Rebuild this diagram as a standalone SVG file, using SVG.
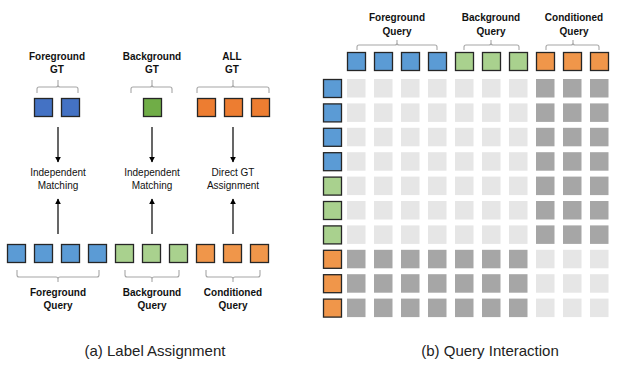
<svg xmlns="http://www.w3.org/2000/svg" width="621" height="369" viewBox="0 0 621 369">
<style>
text{font-family:"Liberation Sans",Arial,sans-serif;fill:#111;text-anchor:middle}
.b{font-weight:bold;font-size:10px}
.n{font-size:10px}
.cap{font-size:15px;fill:#222}
.sq{stroke:#262626;stroke-width:1.3}
.fgT{fill:#4472C4}.bgT{fill:#70AD47}.orT{fill:#ED7D31}
.fg{fill:#5B9BD5}.bg{fill:#A9D18E}.or{fill:#F0964A}
.lt{fill:#E6E6E6}.dk{fill:#A6A6A6}
.br{fill:none;stroke:#A6A6A6;stroke-width:1.1}
.ar{stroke:#000;stroke-width:1.2;fill:none;marker-end:url(#ah)}
</style>
<defs>
<marker id="ah" viewBox="0 0 10 10" refX="9" refY="5" markerWidth="6" markerHeight="6" markerUnits="userSpaceOnUse" orient="auto"><path d="M0,0L10,5L0,10z" fill="#000"/></marker>
</defs>
<rect width="621" height="369" fill="#fff"/>

<!-- (a) Label Assignment -->
<g id="fg-gt">
<text class="b" x="57" y="60">Foreground</text><text class="b" x="57" y="73">GT</text>
<path class="br" d="M37,93V89Q37,87 39,87H56Q58,87 58,85V80M58,85Q58,87 60,87H76Q78,87 78,89V93"/>
<rect class="sq fgT" x="34.5" y="98.5" width="18" height="18"/>
<rect class="sq fgT" x="61.5" y="98.5" width="18" height="18"/>
</g>
<g id="bg-gt">
<text class="b" x="152" y="60">Background</text><text class="b" x="152" y="73">GT</text>
<path class="br" d="M131,93V89Q131,87 133,87H150Q152,87 152,85V80M152,85Q152,87 154,87H170Q172,87 172,89V93"/>
<rect class="sq bgT" x="143.5" y="98.5" width="18" height="18"/>
</g>
<g id="all-gt">
<text class="b" x="232" y="60">ALL</text><text class="b" x="232" y="73">GT</text>
<path class="br" d="M197,93V89Q197,87 199,87H231Q233,87 233,85V80M233,85Q233,87 235,87H267Q269,87 269,89V93"/>
<rect class="sq orT" x="197.5" y="98.5" width="18" height="18"/>
<rect class="sq orT" x="224.5" y="98.5" width="18" height="18"/>
<rect class="sq orT" x="251.5" y="98.5" width="18" height="18"/>
</g>
<g id="match-fg"><text class="n" x="58" y="176">Independent</text><text class="n" x="58" y="189">Matching</text></g>
<g id="match-bg"><text class="n" x="152" y="176">Independent</text><text class="n" x="152" y="189">Matching</text></g>
<g id="assign"><text class="n" x="233" y="176">Direct GT</text><text class="n" x="233" y="189">Assignment</text></g>
<g id="fg-query">
<rect class="sq fg" x="7.5" y="244.5" width="18" height="18"/>
<rect class="sq fg" x="34.5" y="244.5" width="18" height="18"/>
<rect class="sq fg" x="61.5" y="244.5" width="18" height="18"/>
<rect class="sq fg" x="88.5" y="244.5" width="18" height="18"/>
<path class="br" d="M17,270V275Q17,277 19,277H56Q58,277 58,279V282M58,279Q58,277 60,277H97Q99,277 99,275V270"/>
<text class="b" x="58" y="296">Foreground</text><text class="b" x="58" y="309">Query</text>
</g>
<g id="bg-query">
<rect class="sq bg" x="115.5" y="244.5" width="18" height="18"/>
<rect class="sq bg" x="142.5" y="244.5" width="18" height="18"/>
<rect class="sq bg" x="169.5" y="244.5" width="18" height="18"/>
<path class="br" d="M125,270V275Q125,277 127,277H150Q152,277 152,279V282M152,279Q152,277 154,277H177Q179,277 179,275V270"/>
<text class="b" x="152" y="296">Background</text><text class="b" x="152" y="309">Query</text>
</g>
<g id="cond-query">
<rect class="sq or" x="196.5" y="244.5" width="18" height="18"/>
<rect class="sq or" x="223.5" y="244.5" width="18" height="18"/>
<rect class="sq or" x="250.5" y="244.5" width="18" height="18"/>
<path class="br" d="M206,270V275Q206,277 208,277H231Q233,277 233,279V282M233,279Q233,277 235,277H258Q260,277 260,275V270"/>
<text class="b" x="233" y="296">Conditioned</text><text class="b" x="233" y="309">Query</text>
</g>
<g id="connectors">
<line class="ar" x1="58" y1="127" x2="58" y2="162"/>
<line class="ar" x1="152" y1="127" x2="152" y2="162"/>
<line class="ar" x1="233" y1="127" x2="233" y2="162"/>
<line class="ar" x1="58" y1="234" x2="58" y2="199"/>
<line class="ar" x1="152" y1="234" x2="152" y2="199"/>
<line class="ar" x1="233" y1="234" x2="233" y2="199"/>
</g>
<text class="cap" x="155" y="356">(a) Label Assignment</text>

<!-- (b) Query Interaction -->
<g id="col-heads">
<text class="b" x="397" y="21">Foreground</text><text class="b" x="397" y="35">Query</text>
<text class="b" x="491" y="21">Background</text><text class="b" x="491" y="35">Query</text>
<text class="b" x="574" y="21">Conditioned</text><text class="b" x="574" y="35">Query</text>
<path class="br" d="M357,50V47Q357,45 359,45H395Q397,45 397,43V40M397,43Q397,45 399,45H435Q437,45 437,47V50"/>
<path class="br" d="M464,50V47Q464,45 466,45H489Q491,45 491,43V40M491,43Q491,45 493,45H517Q519,45 519,47V50"/>
<path class="br" d="M546,50V47Q546,45 548,45H571Q573,45 573,43V40M573,43Q573,45 575,45H597Q599,45 599,47V50"/>
<rect class="sq fg" x="347.5" y="52.5" width="18" height="18"/>
<rect class="sq fg" x="374.5" y="52.5" width="18" height="18"/>
<rect class="sq fg" x="401.5" y="52.5" width="18" height="18"/>
<rect class="sq fg" x="428.5" y="52.5" width="18" height="18"/>
<rect class="sq bg" x="455.5" y="52.5" width="18" height="18"/>
<rect class="sq bg" x="482.5" y="52.5" width="18" height="18"/>
<rect class="sq bg" x="509.5" y="52.5" width="18" height="18"/>
<rect class="sq or" x="536.5" y="52.5" width="18" height="18"/>
<rect class="sq or" x="563.5" y="52.5" width="18" height="18"/>
<rect class="sq or" x="590.5" y="52.5" width="18" height="18"/>
</g>
<g id="row-heads">
<rect class="sq fg" x="323.5" y="79.5" width="18" height="18"/>
<rect class="sq fg" x="323.5" y="103.9" width="18" height="18"/>
<rect class="sq fg" x="323.5" y="128.3" width="18" height="18"/>
<rect class="sq fg" x="323.5" y="152.7" width="18" height="18"/>
<rect class="sq bg" x="323.5" y="177.1" width="18" height="18"/>
<rect class="sq bg" x="323.5" y="201.5" width="18" height="18"/>
<rect class="sq bg" x="323.5" y="225.9" width="18" height="18"/>
<rect class="sq or" x="323.5" y="250.3" width="18" height="18"/>
<rect class="sq or" x="323.5" y="274.7" width="18" height="18"/>
<rect class="sq or" x="323.5" y="299.1" width="18" height="18"/>
</g>
<defs>
<g id="rowA"><rect class="lt" x="347" width="18.5" height="18.5"/><rect class="lt" x="374" width="18.5" height="18.5"/><rect class="lt" x="401" width="18.5" height="18.5"/><rect class="lt" x="428" width="18.5" height="18.5"/><rect class="lt" x="455" width="18.5" height="18.5"/><rect class="lt" x="482" width="18.5" height="18.5"/><rect class="lt" x="509" width="18.5" height="18.5"/><rect class="dk" x="536" width="18.5" height="18.5"/><rect class="dk" x="563" width="18.5" height="18.5"/><rect class="dk" x="590" width="18.5" height="18.5"/></g>
<g id="rowB"><rect class="dk" x="347" width="18.5" height="18.5"/><rect class="dk" x="374" width="18.5" height="18.5"/><rect class="dk" x="401" width="18.5" height="18.5"/><rect class="dk" x="428" width="18.5" height="18.5"/><rect class="dk" x="455" width="18.5" height="18.5"/><rect class="dk" x="482" width="18.5" height="18.5"/><rect class="dk" x="509" width="18.5" height="18.5"/><rect class="lt" x="536" width="18.5" height="18.5"/><rect class="lt" x="563" width="18.5" height="18.5"/><rect class="lt" x="590" width="18.5" height="18.5"/></g>
</defs>
<g id="matrix">
<use href="#rowA" y="79"/>
<use href="#rowA" y="103.4"/>
<use href="#rowA" y="127.8"/>
<use href="#rowA" y="152.2"/>
<use href="#rowA" y="176.6"/>
<use href="#rowA" y="201"/>
<use href="#rowA" y="225.4"/>
<use href="#rowB" y="249.8"/>
<use href="#rowB" y="274.2"/>
<use href="#rowB" y="298.6"/>
</g>
<text class="cap" x="490" y="356">(b) Query Interaction</text>
</svg>
